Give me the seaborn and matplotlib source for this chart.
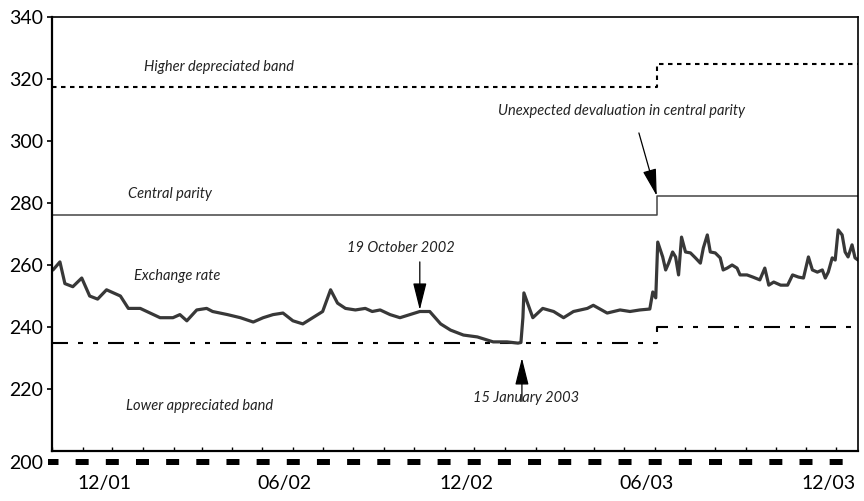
import pandas as pd
import matplotlib
matplotlib.use("Agg")
import matplotlib.pyplot as plt
import matplotlib.dates as mdates
import matplotlib.transforms as mtransforms
import seaborn as sns

# Exchange rate
rate_dates = [
    "2001-10-02", "2001-10-09", "2001-10-14", "2001-10-22", "2001-10-31", "2001-11-08",
    "2001-11-16", "2001-11-25", "2001-12-09", "2001-12-17", "2001-12-29", "2002-01-08",
    "2002-01-18", "2002-01-31", "2002-02-07", "2002-02-14", "2002-02-24", "2002-03-06",
    "2002-03-12", "2002-03-27", "2002-04-09", "2002-04-22", "2002-05-02", "2002-05-12",
    "2002-05-22", "2002-06-01", "2002-06-11", "2002-06-21", "2002-07-01", "2002-07-09",
    "2002-07-16", "2002-07-24", "2002-08-03", "2002-08-13", "2002-08-20", "2002-08-28",
    "2002-09-07", "2002-09-17", "2002-09-27", "2002-10-07", "2002-10-17", "2002-10-28",
    "2002-11-07", "2002-11-20", "2002-12-04", "2002-12-20", "2003-01-03", "2003-01-14",
    "2003-01-17", "2003-01-19", "2003-01-20", "2003-01-29", "2003-02-08", "2003-02-19",
    "2003-03-01", "2003-03-11", "2003-03-25", "2003-03-31", "2003-04-14", "2003-04-27",
    "2003-05-07", "2003-05-17", "2003-05-27", "2003-05-30", "2003-06-02", "2003-06-04",
    "2003-06-09", "2003-06-12", "2003-06-15", "2003-06-19", "2003-06-22", "2003-06-25",
    "2003-06-28", "2003-07-02", "2003-07-07", "2003-07-12", "2003-07-17", "2003-07-20",
    "2003-07-24", "2003-07-27", "2003-08-01", "2003-08-06", "2003-08-09", "2003-08-13",
    "2003-08-18", "2003-08-23", "2003-08-26", "2003-09-02", "2003-09-08", "2003-09-15",
    "2003-09-20", "2003-09-24", "2003-09-29", "2003-10-06", "2003-10-13", "2003-10-18",
    "2003-10-24", "2003-10-29", "2003-11-03", "2003-11-07", "2003-11-12", "2003-11-17",
    "2003-11-20", "2003-11-23", "2003-11-27", "2003-11-30", "2003-12-03", "2003-12-07",
    "2003-12-10", "2003-12-13", "2003-12-17", "2003-12-20", "2003-12-23",
]
rate_values = [
    258.4, 261.0, 254.0, 253.0, 255.8, 250.0,
    249.0, 252.0, 250.0, 246.0, 246.0, 244.5,
    243.0, 243.0, 244.0, 242.0, 245.5, 246.0,
    245.0, 244.0, 243.0, 241.6, 243.0, 244.0,
    244.5, 242.0, 241.0, 243.0, 245.0, 252.0,
    247.7, 246.0, 245.5, 246.0, 245.0, 245.5,
    244.0, 243.0, 244.0, 245.0, 245.0, 241.0,
    239.0, 237.4, 236.8, 235.2, 235.2, 234.8,
    235.0, 243.0, 251.0, 243.0, 246.0, 245.0,
    243.0, 245.0, 246.0, 247.0, 244.5, 245.5,
    245.0, 245.5, 245.8, 251.3, 249.4, 267.4,
    262.6, 258.4, 260.6, 264.2, 262.6, 256.8,
    269.0, 264.2, 263.9, 262.3, 260.6, 265.5,
    269.7, 264.2, 263.9, 262.3, 258.4, 259.0,
    260.0, 259.0, 256.8, 256.8, 256.1, 255.2,
    259.0, 253.5, 254.5, 253.5, 253.5, 256.8,
    256.1, 255.8, 262.6, 258.4, 257.7, 258.4,
    255.8, 257.7, 262.3, 261.6, 271.3, 269.7,
    264.2, 262.6, 266.5, 262.3, 261.6,
]

# Band and central parity (step at the devaluation)
band_dates = ["2001-10-01", "2003-06-03", "2003-12-23"]
upper_band = [317.5, 324.7, 324.7]
central_parity = [276.1, 282.4, 282.4]
lower_band = [234.7, 240.0, 240.0]

y_ticks = [200, 220, 240, 260, 280, 300, 320, 340]

rate = pd.DataFrame({"date": pd.to_datetime(rate_dates), "value": rate_values})
bands = pd.DataFrame({"date": pd.to_datetime(band_dates), "upper": upper_band,
                      "central": central_parity, "lower": lower_band})

sns.set_theme(style="white")
plt.rcParams["font.family"] = ["Lato", "DejaVu Sans"]
plt.rcParams["lines.scale_dashes"] = False
PX = 0.72  # points per pixel at dpi 100

fig = plt.figure(figsize=(8.64, 5.01), dpi=100)
ax = fig.add_axes([52 / 864, 1 - 451 / 501, 806 / 864, 434 / 501])

sns.lineplot(data=bands, x="date", y="upper", ax=ax, color="black", lw=1.5,
             drawstyle="steps-post")
ax.lines[-1].set_linestyle((0, (4.5 * PX, 4.5 * PX)))
sns.lineplot(data=bands, x="date", y="central", ax=ax, color="#444444", lw=1.1,
             drawstyle="steps-post")
sns.lineplot(data=bands, x="date", y="lower", ax=ax, color="black", lw=1.5,
             drawstyle="steps-post")
ax.lines[-1].set_linestyle((0, (16 * PX, 10 * PX, 5 * PX, 10 * PX, 5 * PX, 10 * PX)))
sns.lineplot(data=rate, x="date", y="value", ax=ax, color="#383838", lw=2.3)

x0 = pd.Timestamp("2001-10-01")
x1 = pd.Timestamp("2003-12-23")
ax.set_xlim(x0, x1)
ax.set_ylim(200, 340)
ax.set_xlabel("")
ax.set_ylabel("")

# frame
for side in ["left", "bottom"]:
    ax.spines[side].set_linewidth(1.6)
for side in ["top", "right"]:
    ax.spines[side].set_linewidth(1.2)
for s in ax.spines.values():
    s.set_color("black")
    s.set_visible(True)

# y axis
ax.set_yticks(y_ticks)
ax.set_yticklabels([str(t) for t in y_ticks])
ax.tick_params(axis="y", direction="out", length=5 * PX, width=1.2, color="black",
               labelsize=14, pad=3, left=True, labelcolor="black")

# x axis: monthly ticks, labels every six months
ax.xaxis.set_major_locator(mdates.MonthLocator())
ax.xaxis.set_major_formatter(plt.FuncFormatter(
    lambda v, p: mdates.num2date(v).strftime("%m/%y")
    if mdates.num2date(v).month in (6, 12) else ""))
ax.tick_params(axis="x", direction="in", length=4 * PX, width=1.0, color="black",
               labelsize=14, pad=24 * PX, bottom=True, labelcolor="black")

fig.canvas.draw()
first = ax.yaxis.get_major_ticks()[0]
first.tick1line.set_visible(False)
first.label1.set_transform(first.label1.get_transform() +
                           mtransforms.ScaledTranslation(0, -11 / 100, fig.dpi_scale_trans))
for tk in ax.xaxis.get_major_ticks():
    tk.label1.set_transform(tk.label1.get_transform() +
                            mtransforms.ScaledTranslation(-8 / 100, 0, fig.dpi_scale_trans))

# thick dashed base line below the frame
trans = mtransforms.blended_transform_factory(ax.transData, ax.transAxes)
base, = ax.plot([x0 - pd.Timedelta(days=4), x1 - pd.Timedelta(days=14)], [-0.0255, -0.0255],
                transform=trans, clip_on=False, color="black", lw=6 * PX,
                solid_capstyle="butt", dash_capstyle="butt")
base.set_linestyle((2.5 * PX, (13 * PX, 17.16 * PX)))

# annotations
txt = dict(fontsize=10.5, style="italic", color="#222222", ha="center", va="center")
ax.text(pd.Timestamp("2002-03-18"), 323.9, "Higher depreciated band", **txt)
ax.text(pd.Timestamp("2003-04-28"), 309.7, "Unexpected devaluation in central parity", **txt)
ax.text(pd.Timestamp("2002-01-28"), 283.0, "Central parity", **txt)
ax.text(pd.Timestamp("2002-02-04"), 256.5, "Exchange rate", **txt)
ax.text(pd.Timestamp("2002-09-18"), 265.5, "19 October 2002", **txt)
ax.text(pd.Timestamp("2002-02-27"), 214.5, "Lower appreciated band", **txt)
ax.text(pd.Timestamp("2003-01-22"), 217.0, "15 January 2003", **txt)

arrow = dict(arrowstyle="-|>,head_length=1.4,head_width=0.35", color="black", lw=0.9,
             shrinkA=0, shrinkB=0)
ax.annotate("", xy=(pd.Timestamp("2003-06-03"), 282.3),
            xytext=(pd.Timestamp("2003-05-16"), 302.6), arrowprops=arrow)
ax.annotate("", xy=(pd.Timestamp("2002-10-07"), 245.5),
            xytext=(pd.Timestamp("2002-10-07"), 261.0), arrowprops=arrow)
ax.annotate("", xy=(pd.Timestamp("2003-01-18"), 230.0),
            xytext=(pd.Timestamp("2003-01-18"), 216.0), arrowprops=arrow)

fig.savefig("out.png", dpi=100)
